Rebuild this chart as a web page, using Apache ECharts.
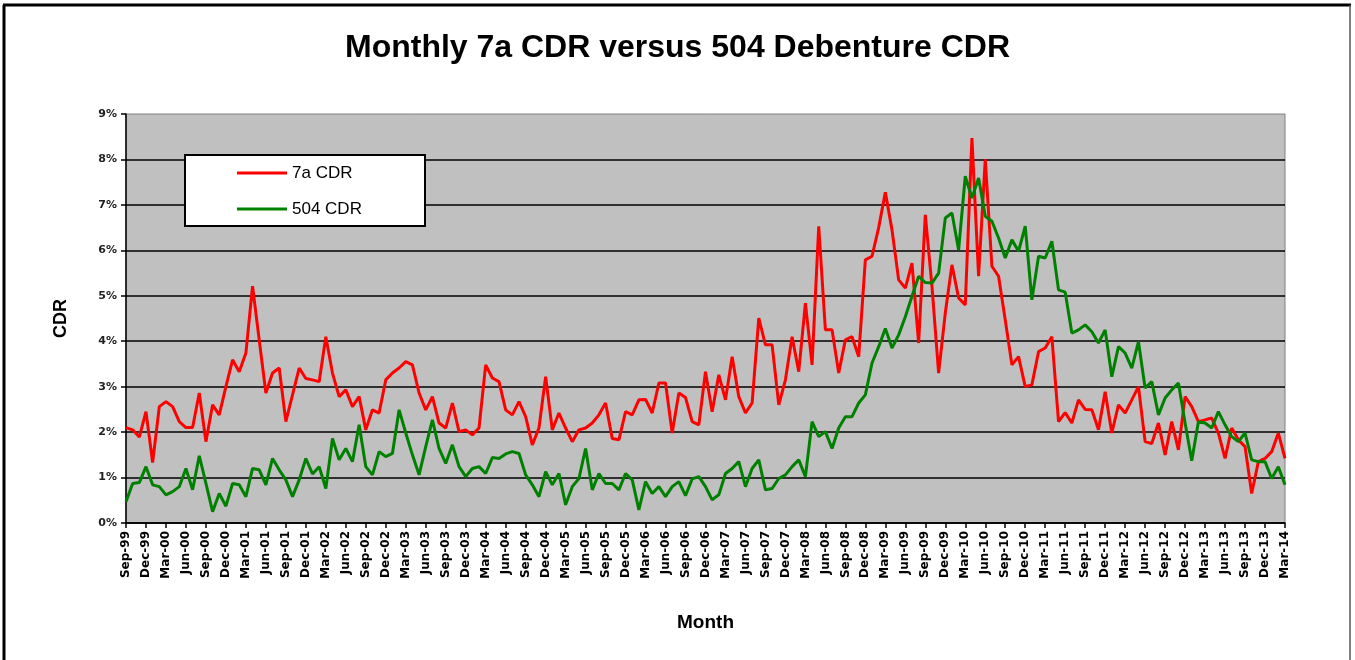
<!DOCTYPE html>
<html>
<head>
<meta charset="utf-8">
<script src="https://cdn.jsdelivr.net/npm/echarts@6/dist/echarts.min.js"></script>
<style>
html,body{margin:0;padding:0;background:#fff;}
#chart{width:1355px;height:660px;}
</style>
</head>
<body>
<div id="chart"></div>
<script>
// month labels, Sep-99 .. Mar-14
var monthNames = ['Jan','Feb','Mar','Apr','May','Jun','Jul','Aug','Sep','Oct','Nov','Dec']
var startYear = 1999, startMonth = 8
var monthCount = 175

// 7a CDR, %
var cdr7a = [
    2.10, 2.05, 1.89, 2.45, 1.33, 2.56, 2.67, 2.56, 2.23, 2.10, 2.10, 2.86, 1.79, 2.60, 2.38, 3.00, 3.59, 3.33, 3.74, 5.21,
    4.03, 2.86, 3.30, 3.41, 2.23, 2.82, 3.41, 3.18, 3.15,
    3.11, 4.10, 3.30, 2.78, 2.93, 2.56, 2.78, 2.05, 2.49, 2.42, 3.15, 3.30, 3.41, 3.55, 3.48, 2.86, 2.49, 2.78, 2.20, 2.09,
    2.64, 2.01, 2.05, 1.94, 2.09, 3.48, 3.19, 3.11, 2.49,
    2.38, 2.67, 2.34, 1.72, 2.09, 3.22, 2.05, 2.42, 2.09, 1.79, 2.05, 2.09, 2.20, 2.38, 2.64, 1.86, 1.83, 2.45, 2.38, 2.71,
    2.72, 2.42, 3.08, 3.08, 1.98, 2.86, 2.76, 2.23,
    2.16, 3.33, 2.45, 3.26, 2.71, 3.66, 2.78, 2.42, 2.64, 4.51, 3.92, 3.92, 2.60, 3.15, 4.10, 3.33, 4.84, 3.48, 6.53, 4.25,
    4.25, 3.30, 4.03, 4.10, 3.66, 5.79, 5.87, 6.50, 7.28,
    6.45, 5.35, 5.17, 5.72, 3.96, 6.78, 5.21, 3.30, 4.62, 5.68, 4.95, 4.80, 8.47, 5.43, 8.00, 5.65, 5.43, 4.47, 3.48, 3.66,
    3.00, 3.04, 3.77, 3.85, 4.10, 2.23,
    2.43, 2.20, 2.71, 2.50, 2.49, 2.05, 2.89, 1.98, 2.60, 2.42, 2.71, 3.00, 1.79, 1.75, 2.20, 1.50, 2.23, 1.61, 2.78, 2.56,
    2.23, 2.27, 2.31, 1.98, 1.42, 2.09, 1.83, 1.68, 0.65, 1.35, 1.42, 1.57, 1.98, 1.42
]

// 504 CDR, %
var cdr504 = [
    0.47, 0.87, 0.89, 1.24, 0.84, 0.80, 0.62, 0.69, 0.80, 1.20, 0.73, 1.48, 0.87, 0.25, 0.65, 0.37, 0.87, 0.84, 0.58, 1.20,
    1.17, 0.84, 1.42, 1.17, 0.95, 0.58, 0.95, 1.42, 1.08,
    1.24, 0.76, 1.86, 1.39, 1.64, 1.35, 2.16, 1.24, 1.06, 1.57, 1.46, 1.53, 2.49, 1.98, 1.50, 1.06, 1.68, 2.27, 1.64, 1.31,
    1.72, 1.24, 1.02, 1.20, 1.24, 1.09, 1.44, 1.42, 1.52,
    1.57, 1.53, 1.06, 0.84, 0.58, 1.13, 0.84, 1.09, 0.40, 0.80, 0.98, 1.64, 0.73, 1.09, 0.87, 0.87, 0.73, 1.09, 0.95, 0.29,
    0.91, 0.65, 0.80, 0.58, 0.80, 0.91, 0.60, 0.97,
    1.02, 0.80, 0.51, 0.62, 1.09, 1.20, 1.35, 0.80, 1.20, 1.39, 0.73, 0.76, 0.98, 1.06, 1.24, 1.39, 1.02, 2.23, 1.90, 2.01,
    1.64, 2.09, 2.34, 2.34, 2.64, 2.82, 3.52, 3.88, 4.28,
    3.85, 4.14, 4.54, 4.99, 5.43, 5.29, 5.28, 5.50, 6.71, 6.82, 6.01, 7.63, 7.15, 7.59, 6.75, 6.64, 6.27, 5.83, 6.23, 5.98,
    6.53, 4.91, 5.87, 5.83, 6.20, 5.13,
    5.08, 4.18, 4.25, 4.36, 4.21, 3.96, 4.25, 3.22, 3.88, 3.74, 3.41, 3.99, 2.97, 3.11, 2.38, 2.75, 2.93, 3.08, 2.20, 1.37,
    2.23, 2.20, 2.09, 2.45, 2.16, 1.90, 1.79, 1.98, 1.39, 1.35, 1.35, 0.98, 1.24, 0.84
]

var seriesNames = ['7a CDR', '504 CDR']
var seriesColors = ['#ff0000', '#008000']

var months = []
for (var i = 0; i < monthCount; i++) {
    var m = (startMonth + i) % 12
    var y = startYear + Math.floor((startMonth + i) / 12)
    months.push(monthNames[m] + '-' + String(y % 100).padStart(2, '0'))
}

var chartDom = document.getElementById('chart')
var myChart = echarts.init(chartDom)
var option

var labelFont = 'DejaVu Sans'
var mainFont = 'Liberation Sans, Arial, sans-serif'

option = {
    animation: false,
    backgroundColor: '#fff',
    title: {
        text: 'Monthly 7a CDR versus 504 Debenture CDR',
        left: 'center',
        top: 27,
        textStyle: {fontFamily: mainFont, fontSize: 32, fontWeight: 'bold', color: '#000'}
    },
    graphic: [
        // outer frame
        {type: 'line', shape: {x1: 4, y1: 5, x2: 4, y2: 660}, style: {stroke: '#000', lineWidth: 3}, z: 50},
        {type: 'line', shape: {x1: 3, y1: 5, x2: 1351, y2: 5}, style: {stroke: '#000', lineWidth: 3}, z: 50},
        {type: 'line', shape: {x1: 1350, y1: 5, x2: 1350, y2: 660}, style: {stroke: '#555', lineWidth: 1.5}, z: 50},
        // legend box
        {type: 'rect', shape: {x: 185, y: 155, width: 240, height: 71},
         style: {fill: '#fff', stroke: '#000', lineWidth: 2}, z: 10}
    ],
    legend: {
        orient: 'vertical',
        left: 237,
        top: 164,
        padding: 0,
        itemWidth: 50,
        itemHeight: 3,
        itemGap: 18,
        z: 20,
        icon: 'rect',
        textStyle: {fontFamily: mainFont, fontSize: 17, color: '#000', lineHeight: 18},
        data: seriesNames
    },
    grid: {
        left: 126,
        right: 70,
        top: 114,
        bottom: 137,
        show: true,
        backgroundColor: '#c0c0c0',
        borderColor: '#808080',
        borderWidth: 1
    },
    xAxis: {
        type: 'category',
        data: months,
        boundaryGap: false,
        name: 'Month',
        nameLocation: 'middle',
        nameGap: 90,
        nameTextStyle: {fontFamily: mainFont, fontSize: 19, fontWeight: 'bold', color: '#000'},
        axisLine: {lineStyle: {color: '#000', width: 1.5}},
        axisTick: {interval: 2, length: 5, lineStyle: {color: '#000', width: 1.5}},
        axisLabel: {
            interval: 2,
            rotate: 90,
            margin: 8,
            fontFamily: labelFont,
            fontSize: 12,
            fontWeight: 'bold',
            color: '#000'
        },
        splitLine: {show: false}
    },
    yAxis: {
        type: 'value',
        min: 0,
        max: 9,
        interval: 1,
        name: 'CDR',
        nameLocation: 'middle',
        nameRotate: 90,
        nameGap: 56,
        nameTextStyle: {fontFamily: mainFont, fontSize: 18, fontWeight: 'bold', color: '#000'},
        axisLine: {show: true, lineStyle: {color: '#000', width: 1.5}},
        axisTick: {show: true, length: 5, lineStyle: {color: '#000', width: 1.5}},
        axisLabel: {
            formatter: '{value}%',
            margin: 9,
            fontFamily: labelFont,
            fontSize: 11,
            fontWeight: 'bold',
            color: '#222'
        },
        splitLine: {show: true, showMaxLine: false, lineStyle: {color: '#000', width: 1.5}}
    },
    series: [
        {
            name: seriesNames[0],
            type: 'line',
            data: cdr7a,
            showSymbol: false,
            symbol: 'none',
            color: seriesColors[0],
            lineStyle: {color: seriesColors[0], width: 3},
            z: 3
        },
        {
            name: seriesNames[1],
            type: 'line',
            data: cdr504,
            showSymbol: false,
            symbol: 'none',
            color: seriesColors[1],
            lineStyle: {color: seriesColors[1], width: 3},
            z: 4
        }
    ]
}
option && myChart.setOption(option)
</script>
</body>
</html>
